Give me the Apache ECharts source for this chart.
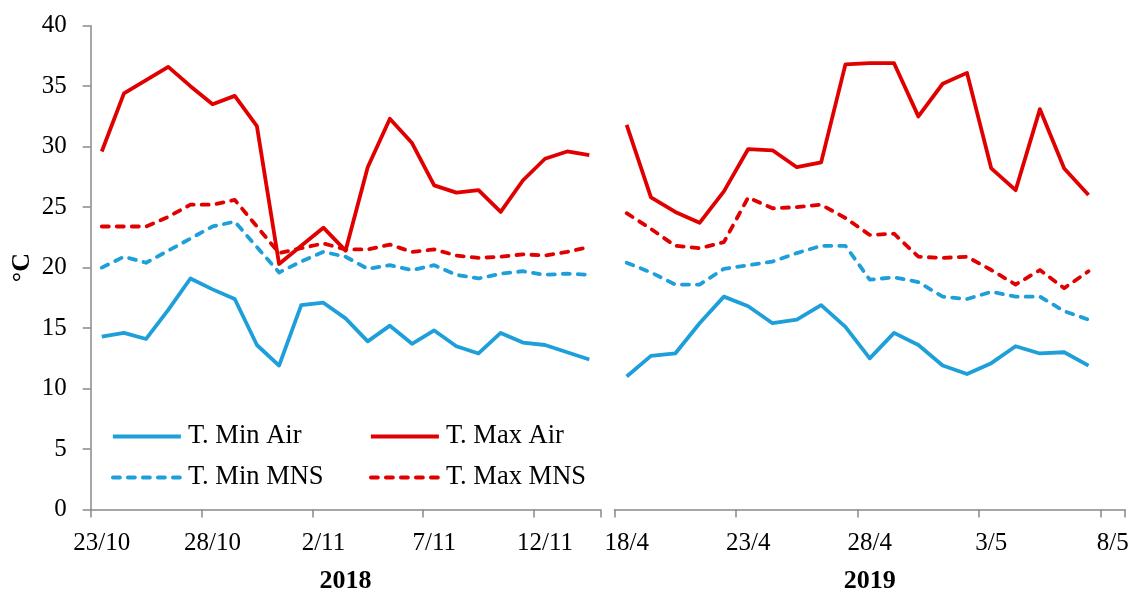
<!DOCTYPE html>
<html>
<head>
<meta charset="utf-8">
<script src="https://cdn.jsdelivr.net/npm/echarts@6/dist/echarts.min.js"></script>
<style>
html,body{margin:0;padding:0;background:#fff;}
#c{width:1131px;height:590px;}
</style>
</head>
<body>
<div id="c"></div>
<script>
// Categories (days)
var days2018 = ['23/10','24/10','25/10','26/10','27/10','28/10','29/10','30/10','31/10','1/11','2/11','3/11','4/11','5/11','6/11','7/11','8/11','9/11','10/11','11/11','12/11','13/11','14/11'];
var days2019 = ['18/4','19/4','20/4','21/4','22/4','23/4','24/4','25/4','26/4','27/4','28/4','29/4','30/4','1/5','2/5','3/5','4/5','5/5','6/5','7/5','8/5'];

// 2018 series
var minAir2018 = [14.3,14.6,14.1,16.5,19.1,18.2,17.4,13.6,11.9,16.9,17.1,15.8,13.9,15.2,13.7,14.8,13.5,12.9,14.6,13.8,13.6,13.0,12.4];
var maxAir2018 = [29.6,34.4,35.5,36.6,35.0,33.5,34.2,31.7,20.3,21.8,23.3,21.4,28.3,32.3,30.3,26.8,26.2,26.4,24.6,27.2,29.0,29.6,29.3];
var minMNS2018 = [20.0,20.9,20.4,21.4,22.4,23.4,23.8,21.7,19.6,20.5,21.3,20.9,19.9,20.2,19.8,20.2,19.4,19.1,19.5,19.7,19.4,19.5,19.4];
var maxMNS2018 = [23.4,23.4,23.4,24.2,25.2,25.2,25.6,23.4,21.2,21.6,22.0,21.5,21.5,21.9,21.3,21.5,21.0,20.8,20.9,21.1,21.0,21.3,21.7];

// 2019 series
var minAir2019 = [11.0,12.7,12.9,15.4,17.6,16.8,15.4,15.7,16.9,15.1,12.5,14.6,13.6,11.9,11.2,12.1,13.5,12.9,13.0,11.9];
var maxAir2019 = [31.8,25.8,24.6,23.7,26.3,29.8,29.7,28.3,28.7,36.8,36.9,36.9,32.5,35.2,36.1,28.2,26.4,33.1,28.2,26.0];
var minMNS2019 = [20.4,19.6,18.6,18.6,19.9,20.2,20.5,21.2,21.8,21.8,19.0,19.2,18.8,17.6,17.4,18.0,17.6,17.6,16.4,15.7];
var maxMNS2019 = [24.5,23.2,21.8,21.6,22.1,25.8,24.9,25.0,25.2,24.1,22.7,22.8,20.9,20.8,20.9,19.8,18.6,19.8,18.3,19.7];

var yTicks = {min: 0, max: 40, interval: 5};

var BLUE = '#1E9FDA';
var RED = '#E00000';
var AXIS = '#898989';
var FONT = '"Liberation Serif", "Times New Roman", serif';

function xAxisDef(gi, data, name) {
  return {
    type: 'category', gridIndex: gi, data: data, boundaryGap: true,
    axisLine: {show: true, lineStyle: {color: AXIS, width: 1.5}},
    axisTick: {show: true, interval: 4, length: 8, lineStyle: {color: AXIS, width: 1.5}},
    axisLabel: {interval: 4, color: '#000', fontFamily: FONT, fontSize: 25, margin: 21},
    splitLine: {show: false},
    name: name, nameLocation: 'middle', nameGap: 59,
    nameTextStyle: {color: '#000', fontFamily: FONT, fontSize: 26, fontWeight: 'bold'}
  };
}

function yAxisDef(gi, show) {
  return {
    type: 'value', gridIndex: gi, min: yTicks.min, max: yTicks.max, interval: yTicks.interval,
    show: show,
    axisLine: {show: true, lineStyle: {color: AXIS, width: 1.5}},
    axisTick: {show: true, length: 8, lineStyle: {color: AXIS, width: 1.5}},
    axisLabel: {color: '#000', fontFamily: FONT, fontSize: 25, margin: 24},
    splitLine: {show: false},
    name: show ? '°C' : '', nameLocation: 'middle', nameGap: 55, nameRotate: 90,
    nameTextStyle: {color: '#000', fontFamily: FONT, fontSize: 26, fontWeight: 'bold'}
  };
}

function lineSeries(name, gi, data, color, dashed) {
  return {
    name: name, type: 'line', xAxisIndex: gi, yAxisIndex: gi, data: data,
    symbol: 'none', smooth: false, silent: true, animation: false,
    lineStyle: {color: color, width: 3.8, type: dashed ? [7, 8] : 'solid', cap: dashed ? 'round' : 'butt', join: 'round'},
    itemStyle: {color: color}
  };
}

function legendDef(name, left, top) {
  return {
    data: [name], left: left, top: top, padding: 0,
    itemWidth: 68, itemHeight: 12, itemGap: 0,
    itemStyle: {opacity: 0},
    lineStyle: {width: 3.8},
    textStyle: {color: '#000', fontFamily: FONT, fontSize: 26.5, padding: [0, 0, 0, 2]},
    selectedMode: false
  };
}

var chart = echarts.init(document.getElementById('c'), null, {renderer: 'canvas'});
chart.setOption({
  animation: false,
  backgroundColor: '#fff',
  grid: [
    {left: 90.7, right: 530.6, top: 25.7, bottom: 80.5, containLabel: false, outerBoundsMode: 'none'},
    {left: 614.5, right: 6, top: 25.7, bottom: 80.5, containLabel: false, outerBoundsMode: 'none'}
  ],
  xAxis: [xAxisDef(0, days2018, '2018'), xAxisDef(1, days2019, '2019')],
  yAxis: [yAxisDef(0, true), yAxisDef(1, false)],
  legend: [
    legendDef('T. Min Air', 111, 423),
    legendDef('T. Max Air', 369, 423),
    legendDef('T. Min MNS', 111, 464),
    legendDef('T. Max MNS', 369, 464)
  ],
  series: [
    lineSeries('T. Min Air', 0, minAir2018, BLUE, false),
    lineSeries('T. Max Air', 0, maxAir2018, RED, false),
    lineSeries('T. Min MNS', 0, minMNS2018, BLUE, true),
    lineSeries('T. Max MNS', 0, maxMNS2018, RED, true),
    lineSeries('T. Min Air', 1, minAir2019, BLUE, false),
    lineSeries('T. Max Air', 1, maxAir2019, RED, false),
    lineSeries('T. Min MNS', 1, minMNS2019, BLUE, true),
    lineSeries('T. Max MNS', 1, maxMNS2019, RED, true)
  ]
});
</script>
</body>
</html>
